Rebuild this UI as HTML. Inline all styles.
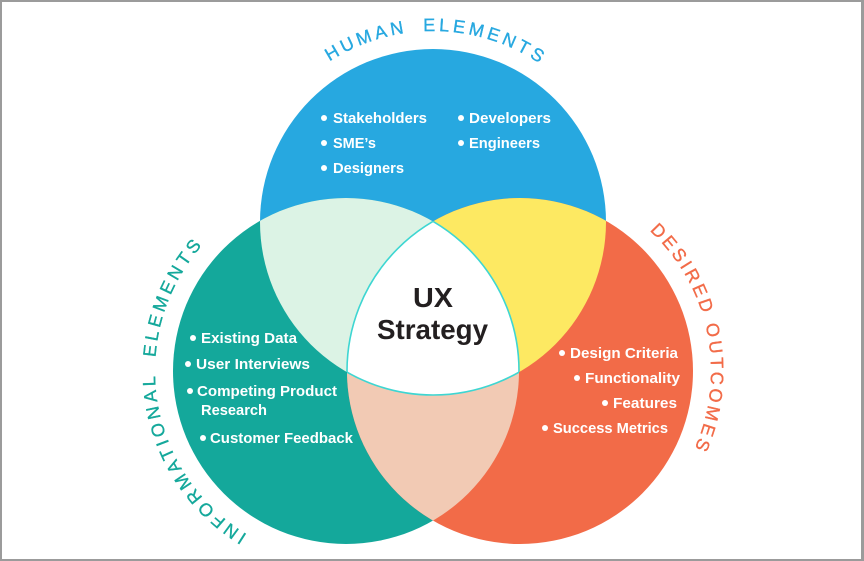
<!DOCTYPE html>
<html>
<head>
<meta charset="utf-8">
<style>
  html,body{margin:0;padding:0;background:#fff;}
  body{width:864px;height:561px;overflow:hidden;}
  svg{display:block;}
  .li{font-family:"Liberation Sans",sans-serif;font-weight:bold;font-size:15px;fill:#fff;}
  .ttl{font-family:"Liberation Sans",sans-serif;font-weight:normal;font-size:18px;stroke-width:0.35;}
</style>
</head>
<body>
<svg width="864" height="561" viewBox="0 0 864 561" xmlns="http://www.w3.org/2000/svg">
  <defs>
    <clipPath id="cB"><circle cx="433" cy="222" r="173"/></clipPath>
    <clipPath id="cT"><circle cx="346" cy="371" r="173"/></clipPath>
    <clipPath id="cO"><circle cx="520" cy="371" r="173"/></clipPath>
    <path id="pH" d="M242,222 A191,191 0 0 1 624,222"/>
    <path id="pI" d="M346,562 A191,191 0 0 1 346,180"/>
    <path id="pD" d="M520,180 A191,191 0 0 1 520,562"/>
  </defs>

  <rect x="0" y="0" width="864" height="561" fill="#fff"/>

  <!-- main circles -->
  <circle cx="433" cy="222" r="173" fill="#27a8e0"/>
  <circle cx="346" cy="371" r="173" fill="#14a89b"/>
  <circle cx="520" cy="371" r="173" fill="#f26b48"/>

  <!-- pairwise overlaps -->
  <g clip-path="url(#cB)"><circle cx="346" cy="371" r="173" fill="#dcf3e5"/></g>
  <g clip-path="url(#cB)"><circle cx="520" cy="371" r="173" fill="#fde962"/></g>
  <g clip-path="url(#cT)"><circle cx="520" cy="371" r="173" fill="#f2cab4"/></g>

  <!-- triple overlap -->
  <g clip-path="url(#cB)"><g clip-path="url(#cT)"><circle cx="520" cy="371" r="173" fill="#ffffff"/></g></g>

  <!-- cyan outline of center region -->
  <g clip-path="url(#cB)"><g clip-path="url(#cT)"><circle cx="520" cy="371" r="173" fill="none" stroke="#3ed6d2" stroke-width="1.6"/></g></g>
  <g clip-path="url(#cB)"><g clip-path="url(#cO)"><circle cx="346" cy="371" r="173" fill="none" stroke="#3ed6d2" stroke-width="1.6"/></g></g>
  <g clip-path="url(#cT)"><g clip-path="url(#cO)"><circle cx="433" cy="222" r="173" fill="none" stroke="#3ed6d2" stroke-width="1.6"/></g></g>

  <!-- center label -->
  <text x="433" y="307" text-anchor="middle" font-family="Liberation Sans, sans-serif" font-weight="bold" font-size="28" fill="#231f20" textLength="40" lengthAdjust="spacingAndGlyphs">UX</text>
  <text x="377" y="339" font-family="Liberation Sans, sans-serif" font-weight="bold" font-size="28" fill="#231f20" textLength="111" lengthAdjust="spacingAndGlyphs">Strategy</text>

  <!-- Human elements list -->
  <g fill="#fff">
    <circle cx="324" cy="118" r="3"/>
    <circle cx="324" cy="143" r="3"/>
    <circle cx="324" cy="168" r="3"/>
    <circle cx="461" cy="118" r="3"/>
    <circle cx="461" cy="143" r="3"/>
  </g>
  <text class="li" x="333" y="123" textLength="94" lengthAdjust="spacingAndGlyphs">Stakeholders</text>
  <text class="li" x="333" y="148" textLength="43" lengthAdjust="spacingAndGlyphs">SME’s</text>
  <text class="li" x="333" y="173" textLength="71" lengthAdjust="spacingAndGlyphs">Designers</text>
  <text class="li" x="469" y="123" textLength="82" lengthAdjust="spacingAndGlyphs">Developers</text>
  <text class="li" x="469" y="148" textLength="71" lengthAdjust="spacingAndGlyphs">Engineers</text>

  <!-- Informational list -->
  <g fill="#fff">
    <circle cx="193" cy="338" r="3"/>
    <circle cx="188" cy="364" r="3"/>
    <circle cx="190" cy="391" r="3"/>
    <circle cx="203" cy="438" r="3"/>
  </g>
  <text class="li" x="201" y="343" textLength="96" lengthAdjust="spacingAndGlyphs">Existing Data</text>
  <text class="li" x="196" y="369" textLength="114" lengthAdjust="spacingAndGlyphs">User Interviews</text>
  <text class="li" x="197" y="396" textLength="140" lengthAdjust="spacingAndGlyphs">Competing Product</text>
  <text class="li" x="201" y="415" textLength="66" lengthAdjust="spacingAndGlyphs">Research</text>
  <text class="li" x="210" y="443" textLength="143" lengthAdjust="spacingAndGlyphs">Customer Feedback</text>

  <!-- Desired outcomes list -->
  <g fill="#fff">
    <circle cx="562" cy="353" r="3"/>
    <circle cx="577" cy="378" r="3"/>
    <circle cx="605" cy="403" r="3"/>
    <circle cx="545" cy="428" r="3"/>
  </g>
  <text class="li" x="570" y="358" textLength="108" lengthAdjust="spacingAndGlyphs">Design Criteria</text>
  <text class="li" x="585" y="383" textLength="95" lengthAdjust="spacingAndGlyphs">Functionality</text>
  <text class="li" x="613" y="408" textLength="64" lengthAdjust="spacingAndGlyphs">Features</text>
  <text class="li" x="553" y="433" textLength="115" lengthAdjust="spacingAndGlyphs">Success Metrics</text>

  <!-- curved titles -->
  <text class="ttl" fill="#27a8e0" stroke="#27a8e0" letter-spacing="3.6" word-spacing="7">
    <textPath href="#pH" startOffset="190.5">HUMAN ELEMENTS</textPath>
  </text>
  <text class="ttl" fill="#14a89b" stroke="#14a89b" letter-spacing="3.7" word-spacing="7">
    <textPath href="#pI" startOffset="103.7">INFORMATIONAL ELEMENTS</textPath>
  </text>
  <text class="ttl" fill="#f26b48" stroke="#f26b48" letter-spacing="3.2">
    <textPath href="#pD" startOffset="142.2">DESIRED OUTCOMES</textPath>
  </text>

  <!-- frame -->
  <rect x="0" y="0" width="864" height="2" fill="#9b9b9b"/>
  <rect x="0" y="559" width="864" height="2" fill="#9b9b9b"/>
  <rect x="0" y="0" width="2" height="561" fill="#9b9b9b"/>
  <rect x="861" y="0" width="3" height="561" fill="#9b9b9b"/>
</svg>
</body>
</html>
